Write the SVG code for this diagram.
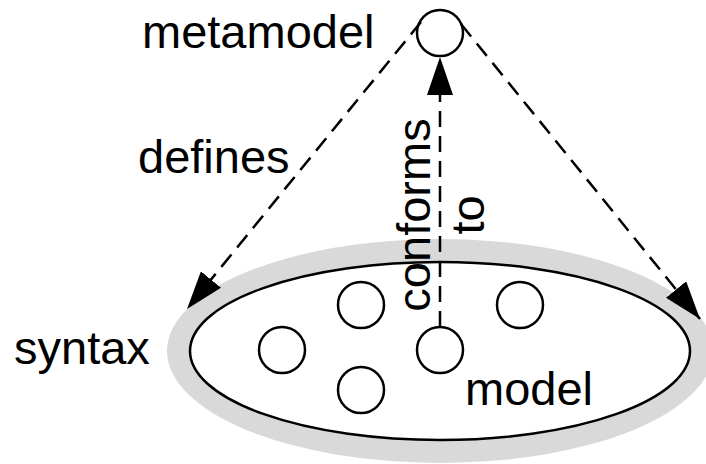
<svg xmlns="http://www.w3.org/2000/svg" width="706" height="464" viewBox="0 0 706 464">
<style>
.t{font-family:"Liberation Sans",Arial,sans-serif;font-size:47px;fill:#000}
.c{fill:#fff;stroke:#000;stroke-width:2.5}
.d{fill:none;stroke:#000;stroke-width:2.5;stroke-dasharray:16 9}
</style>
<defs>
<marker id="ah" viewBox="0 0 38 26" refX="38" refY="13" markerWidth="38" markerHeight="26" markerUnits="userSpaceOnUse" orient="auto">
<path d="M0,0 L38,13 L0,26 Z" fill="#000"/>
</marker>
</defs>
<rect width="706" height="464" fill="#fff"/>
<g id="syntax">
<ellipse cx="440" cy="351" rx="273" ry="112" fill="#d9d9d9"/>
<ellipse cx="440" cy="351" rx="250" ry="89" class="c"/>
<text class="t" x="14" y="364">syntax</text>
</g>
<g id="metamodel">
<circle cx="440" cy="33" r="23" class="c"/>
<text class="t" x="142" y="48">metamodel</text>
</g>
<g id="elements">
<circle cx="282" cy="350" r="23" class="c"/>
<circle cx="361" cy="305" r="23" class="c"/>
<circle cx="361" cy="390" r="23" class="c"/>
<circle cx="520" cy="305" r="23" class="c"/>
</g>
<g id="connectors">
<line x1="421" y1="22" x2="187" y2="309" class="d" marker-end="url(#ah)"/>
<line x1="461" y1="24" x2="700" y2="319" class="d" marker-end="url(#ah)"/>
<line x1="440" y1="327" x2="440" y2="57" class="d" marker-end="url(#ah)"/>
<text class="t" x="138" y="173">defines</text>
<text class="t" text-anchor="middle" transform="translate(430,215) rotate(-90)">conforms</text>
<text class="t" text-anchor="middle" transform="translate(484,215) rotate(-90)">to</text>
</g>
<g id="model">
<circle cx="440" cy="350" r="23" class="c"/>
<text class="t" x="465" y="405">model</text>
</g>
</svg>
